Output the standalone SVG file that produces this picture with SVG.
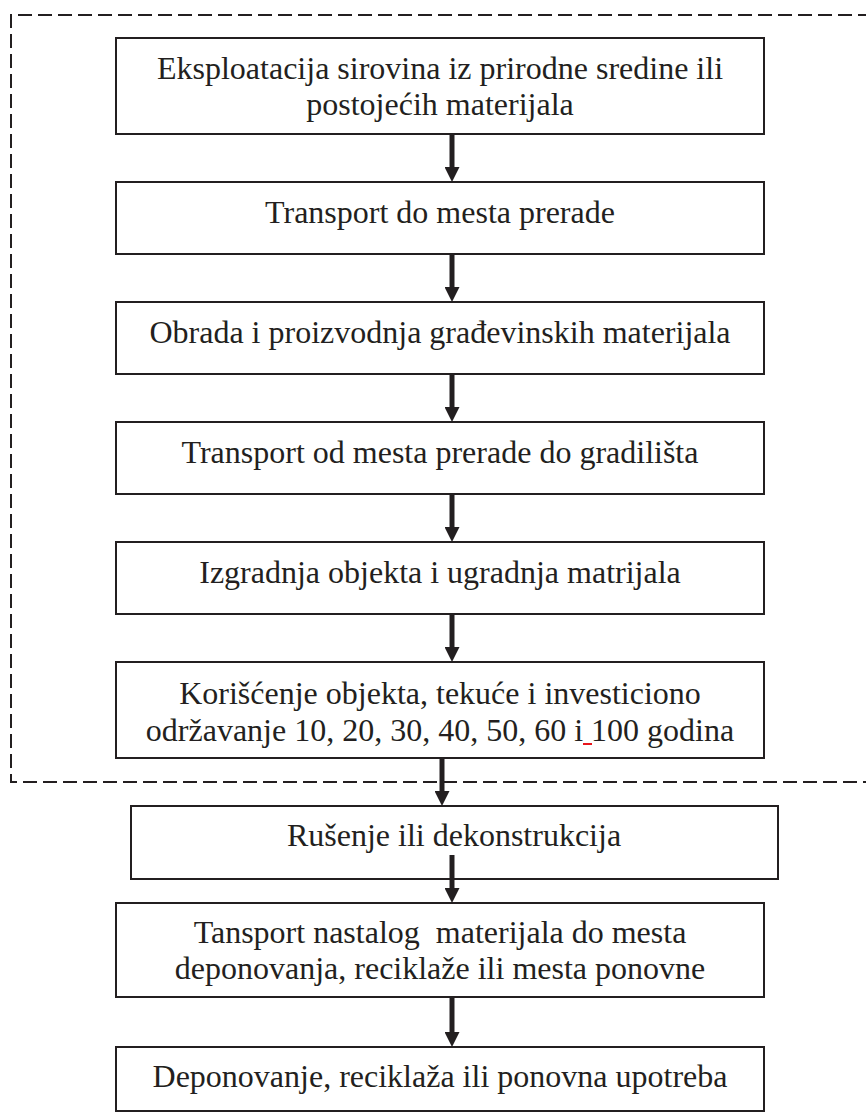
<svg xmlns="http://www.w3.org/2000/svg" width="866" height="1113" viewBox="0 0 866 1113">
  <style>
    .box { fill: #ffffff; stroke: #231f20; stroke-width: 2; }
    .lbl { font-family: "Liberation Serif", "Times New Roman", serif; font-size: 32px; fill: #231f20; text-anchor: middle; }
    .conn { stroke: #231f20; stroke-width: 5; fill: none; }
    .frame { fill: none; stroke: #231f20; stroke-width: 2; stroke-dasharray: 14 6; }
  </style>
  <defs>
    <marker id="ah" markerUnits="userSpaceOnUse" markerWidth="15" markerHeight="15" refX="0" refY="7.5" orient="auto">
      <path d="M0,0 L15,7.5 L0,15 Z" fill="#231f20"/>
    </marker>
  </defs>
  <rect width="866" height="1113" fill="#ffffff"/>

  <path class="frame" d="M 872 15 H 11 V 782 H 872"/>

  <g id="n1">
    <rect class="box" x="116" y="38" width="648" height="96"/>
    <text class="lbl" x="440" y="79">Eksploatacija sirovina iz prirodne sredine ili</text>
    <text class="lbl" x="440" y="115">postojećih materijala</text>
  </g>
  <g id="n2">
    <rect class="box" x="116" y="182" width="648" height="72"/>
    <text class="lbl" x="440" y="223">Transport do mesta prerade</text>
  </g>
  <g id="n3">
    <rect class="box" x="116" y="302" width="648" height="72"/>
    <text class="lbl" x="440" y="343">Obrada i proizvodnja građevinskih materijala</text>
  </g>
  <g id="n4">
    <rect class="box" x="116" y="422" width="648" height="72"/>
    <text class="lbl" x="440" y="463">Transport od mesta prerade do gradilišta</text>
  </g>
  <g id="n5">
    <rect class="box" x="116" y="542" width="648" height="72"/>
    <text class="lbl" x="440" y="583">Izgradnja objekta i ugradnja matrijala</text>
  </g>
  <g id="n6">
    <rect class="box" x="116" y="662" width="648" height="96"/>
    <text class="lbl" x="440" y="704">Korišćenje objekta, tekuće i investiciono</text>
    <text class="lbl" x="440" y="741">održavanje 10, 20, 30, 40, 50, 60 i 100 godina</text>
    <line x1="583" y1="744" x2="592" y2="744" stroke="#e8141b" stroke-width="2"/>
  </g>
  <g id="n7">
    <rect class="box" x="131" y="806" width="647" height="73"/>
    <text class="lbl" x="454" y="846">Rušenje ili dekonstrukcija</text>
  </g>
  <g id="n8">
    <rect class="box" x="116" y="903" width="648" height="94"/>
    <text class="lbl" x="440" y="943" xml:space="preserve">Tansport nastalog  materijala do mesta</text>
    <text class="lbl" x="440" y="979">deponovanja, reciklaže ili mesta ponovne</text>
  </g>
  <g id="n9">
    <rect class="box" x="116" y="1047" width="648" height="64"/>
    <text class="lbl" x="440" y="1087">Deponovanje, reciklaža ili ponovna upotreba</text>
  </g>

  <g id="connectors">
    <line class="conn" x1="452" y1="134" x2="452" y2="167" marker-end="url(#ah)"/>
    <line class="conn" x1="452" y1="254" x2="452" y2="287" marker-end="url(#ah)"/>
    <line class="conn" x1="452" y1="374" x2="452" y2="407" marker-end="url(#ah)"/>
    <line class="conn" x1="452" y1="494" x2="452" y2="527" marker-end="url(#ah)"/>
    <line class="conn" x1="452" y1="614" x2="452" y2="647" marker-end="url(#ah)"/>
    <line class="conn" x1="442" y1="758" x2="442" y2="791" marker-end="url(#ah)"/>
    <line class="conn" x1="452" y1="855" x2="452" y2="888" marker-end="url(#ah)"/>
    <line class="conn" x1="452" y1="997" x2="452" y2="1032" marker-end="url(#ah)"/>
  </g>
</svg>
